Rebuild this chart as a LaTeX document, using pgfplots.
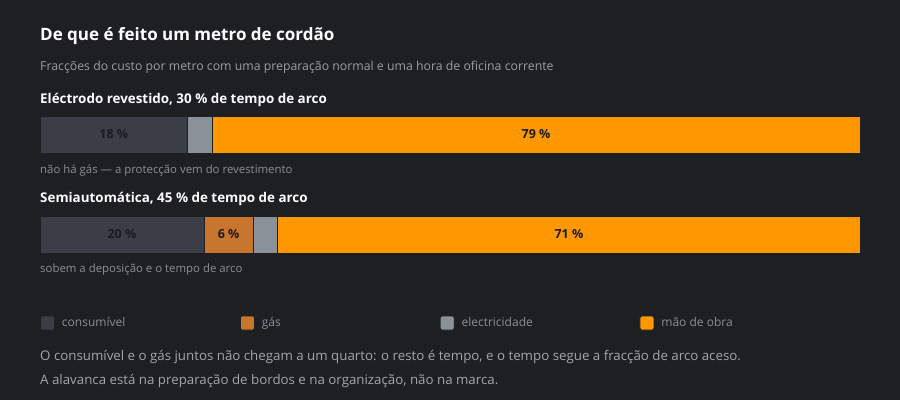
\documentclass[border=0pt]{standalone}
\usepackage{fontspec}
\setmainfont{Open Sans}
\usepackage{pgfplots}
\pgfplotsset{compat=1.18}
\definecolor{bg}{HTML}{1D1F22}
\definecolor{cons}{HTML}{3B3E46}
\definecolor{gas}{HTML}{C8762E}
\definecolor{elec}{HTML}{8B9199}
\definecolor{lab}{HTML}{FF9800}
\definecolor{sub}{HTML}{9A9EA4}
\definecolor{note}{HTML}{8B8F95}
\definecolor{foot}{HTML}{A3A7AD}
\definecolor{dark}{HTML}{1A1C1F}
\begin{document}
\begin{tikzpicture}
\fill[bg] (0,0) rectangle (900pt,400pt);
\useasboundingbox (0,0) rectangle (900pt,400pt);
\node[anchor=west,inner sep=0pt,text=white,font=\fontsize{17}{19}\selectfont\bfseries] at (40pt,364pt) {De que é feito um metro de cordão};
\node[anchor=west,inner sep=0pt,text=sub,font=\fontsize{12.3}{14}\selectfont] at (40pt,333pt) {Fracções do custo por metro com uma preparação normal e uma hora de oficina corrente};
\node[anchor=west,inner sep=0pt,text=white,font=\fontsize{13.4}{15}\selectfont\bfseries] at (40pt,300pt) {Eléctrodo revestido, 30 \% de tempo de arco};
\node[anchor=west,inner sep=0pt,text=note,font=\fontsize{11.4}{13}\selectfont] at (40pt,229pt) {não há gás — a protecção vem do revestimento};
\node[anchor=west,inner sep=0pt,text=white,font=\fontsize{13.4}{15}\selectfont\bfseries] at (40pt,201pt) {Semiautomática, 45 \% de tempo de arco};
\node[anchor=west,inner sep=0pt,text=note,font=\fontsize{11.4}{13}\selectfont] at (40pt,130pt) {sobem a deposição e o tempo de arco};
\node[anchor=west,inner sep=0pt,text=foot,font=\fontsize{13.3}{15}\selectfont] at (40pt,43pt) {O consumível e o gás juntos não chegam a um quarto: o resto é tempo, e o tempo segue a fracção de arco aceso.};
\node[anchor=west,inner sep=0pt,text=foot,font=\fontsize{13.3}{15}\selectfont] at (40pt,19pt) {A alavanca está na preparação de bordos e na organização, não na marca.};
\begin{axis}[
  at={(40pt,115.5pt)}, anchor=south west,
  width=820pt, height=200pt, scale only axis,
  xbar stacked, bar width=37pt,
  xmin=0, xmax=100, ymin=-0.5, ymax=1.5,
  hide axis, clip=false,
  point meta=explicit symbolic,
  every node near coord/.append style={anchor=center, text=dark,
     font=\fontsize{12.5}{14}\selectfont\bfseries},
  legend columns=4,
  legend style={at={(0,-0.1925)}, anchor=west, draw=none, fill=none,
     inner sep=0pt, text=note, font=\fontsize{12}{14}\selectfont,
     /tikz/every odd column/.append style={column sep=5pt}},
  legend image code/.code={\fill[#1, rounded corners=1.5pt] (0pt,-7pt) rectangle (14pt,7pt);},
]
\addplot[fill=cons, draw=bg, line width=0.8pt, nodes near coords] coordinates {(18,1) [18 \%] (20,0) [20 \%]};
\addplot[fill=gas, draw=bg, line width=0.8pt, nodes near coords] coordinates {(0,1) [{}] (6,0) [6 \%]};
\addplot[fill=elec, draw=bg, line width=0.8pt] coordinates {(3,1) (3,0)};
\addplot[fill=lab, draw=bg, line width=0.8pt, nodes near coords] coordinates {(79,1) [79 \%] (71,0) [71 \%]};
\legend{\makebox[176pt][l]{consumível}, \makebox[176pt][l]{gás}, \makebox[176pt][l]{electricidade}, \makebox[176pt][l]{mão de obra}}
\end{axis}
\end{tikzpicture}
\end{document}
